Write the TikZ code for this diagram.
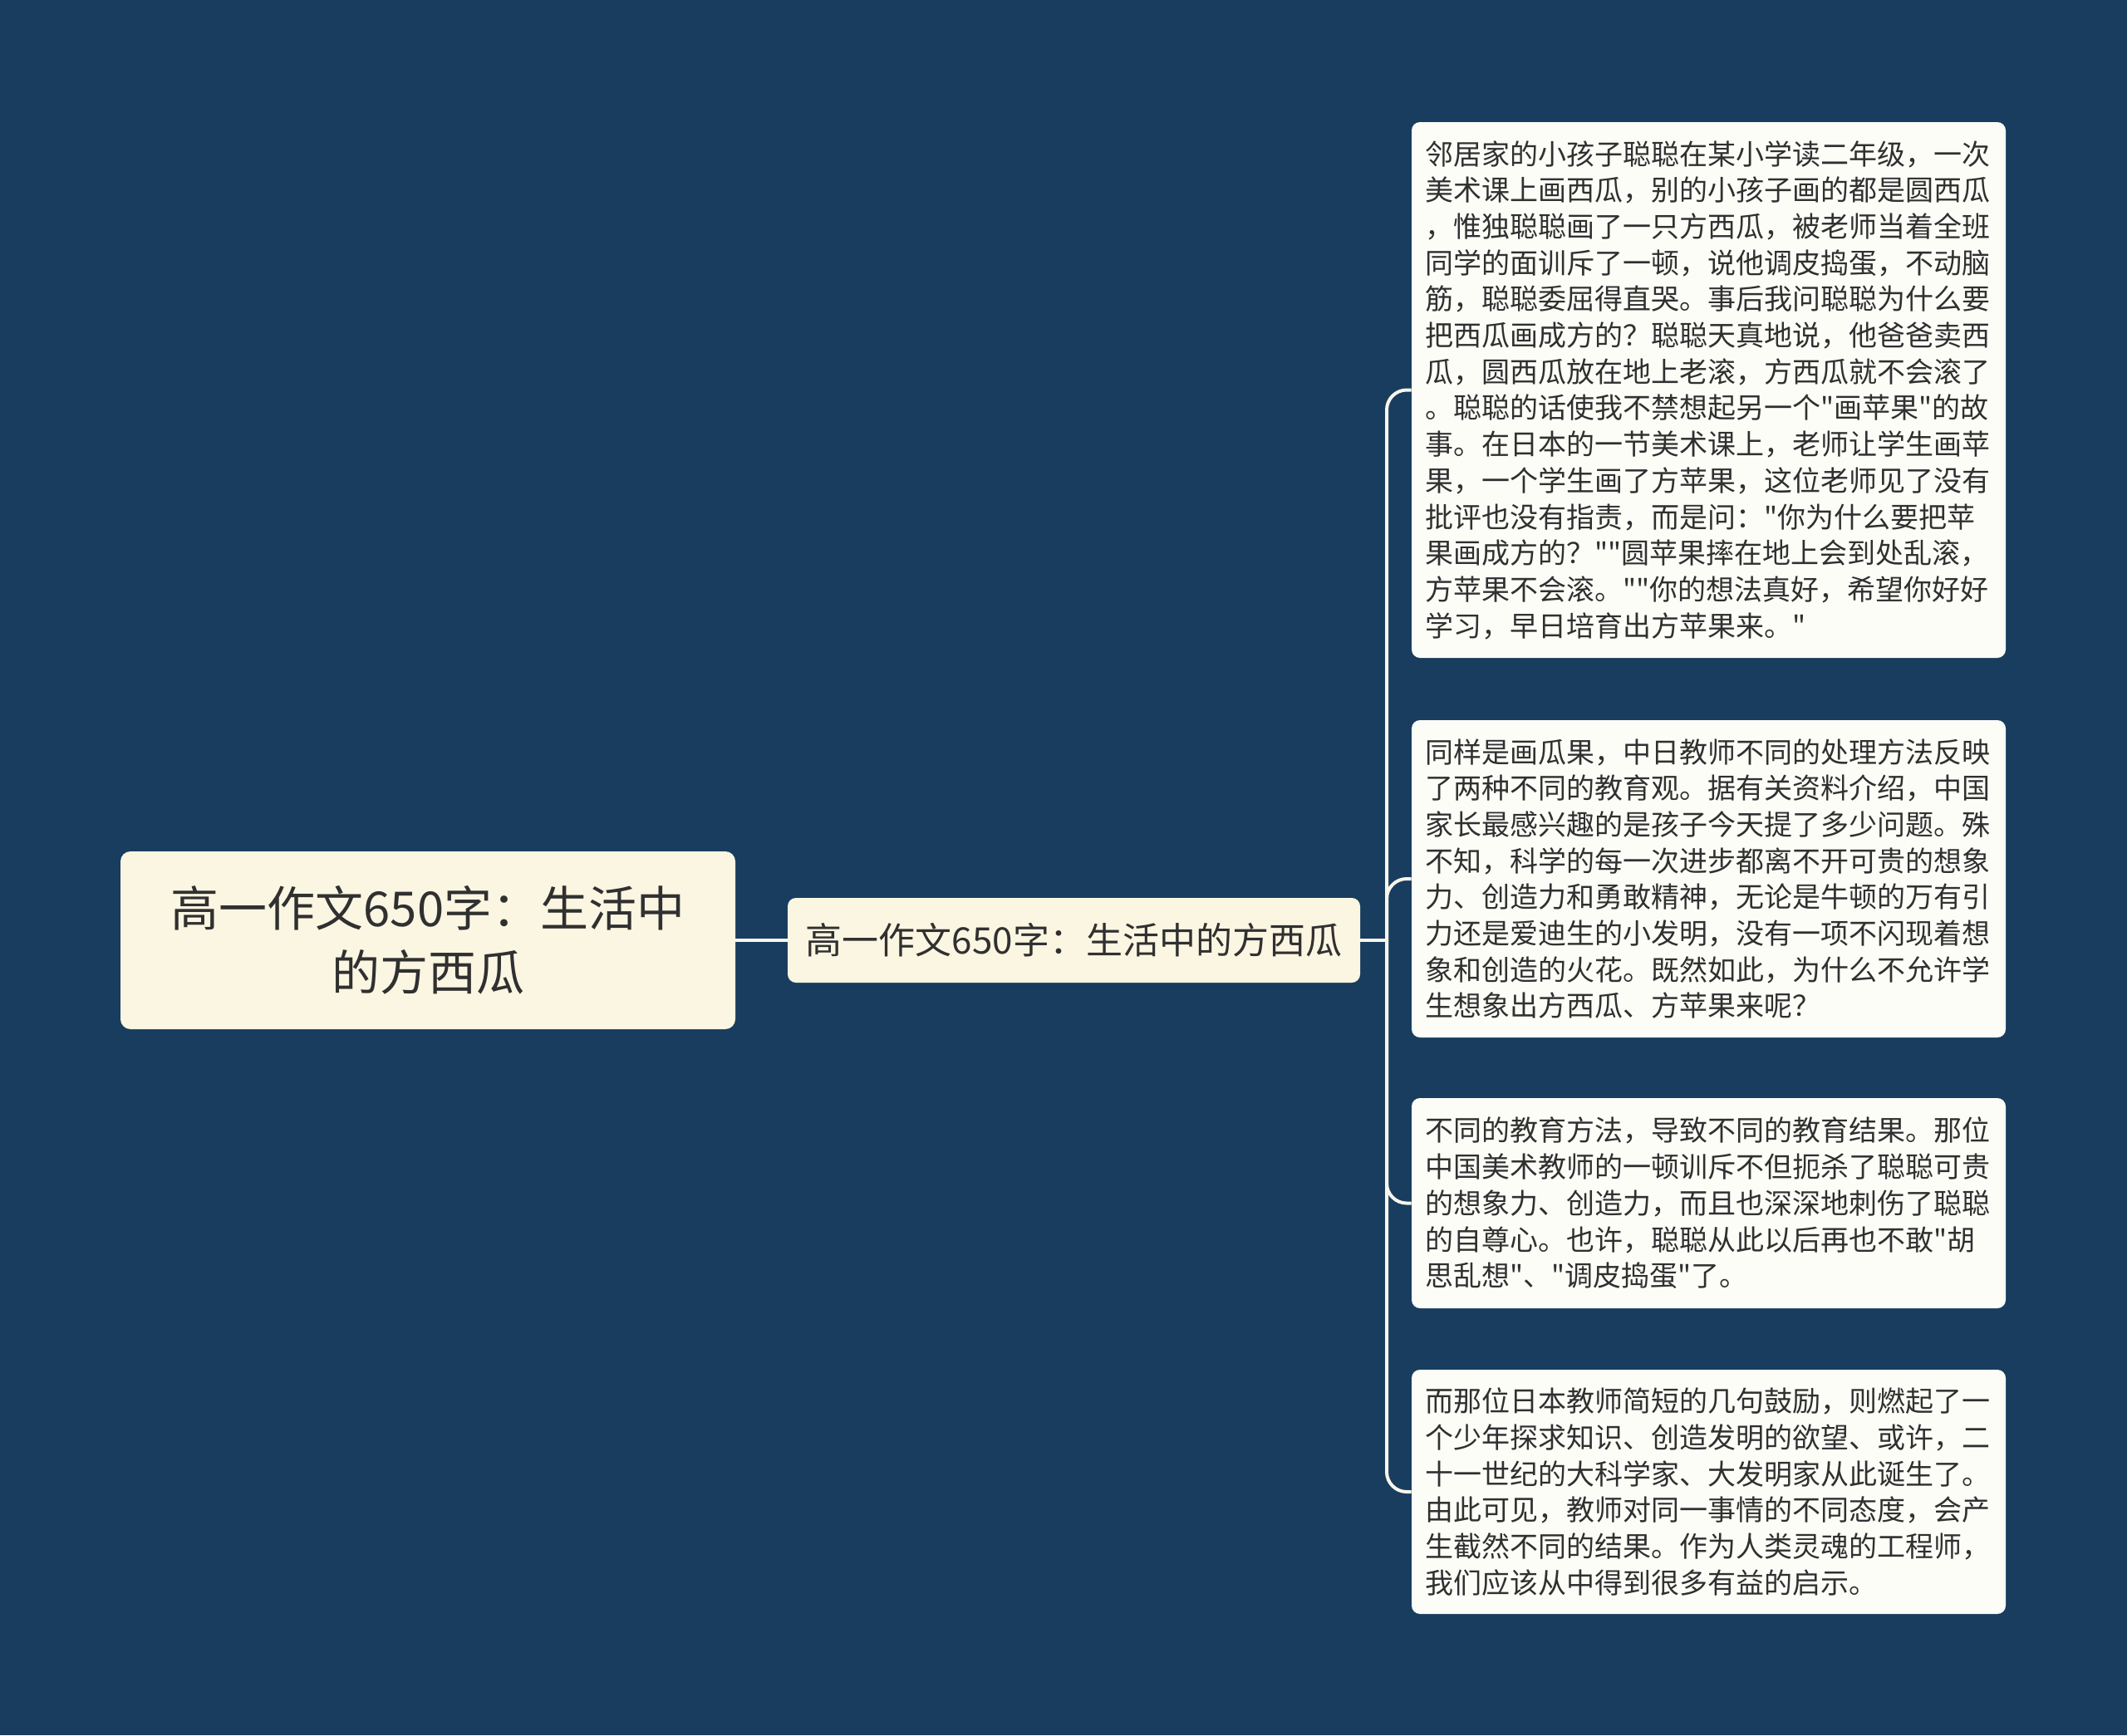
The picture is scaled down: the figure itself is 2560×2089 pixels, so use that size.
\documentclass[tikz,border=0pt]{standalone}
\usepackage{fontspec}
\setmainfont{Noto Sans CJK SC}[Ligatures=TeXOff]
\definecolor{bg}{RGB}{24,61,94}
\definecolor{cream}{RGB}{250,246,226}
\definecolor{paper}{RGB}{253,253,248}
\definecolor{ink}{RGB}{48,48,48}
\definecolor{wire}{RGB}{248,246,236}
\begin{document}
\begin{tikzpicture}[x=0.5pt,y=-0.5pt,
  rootbox/.style={fill=cream, rounded corners=6pt, inner sep=0pt, align=center, text=ink,
    minimum width=370pt, minimum height=107pt, font=\fontsize{29}{38.5}\selectfont},
  midbox/.style={fill=cream, rounded corners=5pt, inner sep=0pt, align=center, text=ink,
    minimum width=344.5pt, minimum height=51pt, font=\fontsize{22}{26}\selectfont},
  textbox/.style={fill=paper, rounded corners=5pt, inner xsep=8.25pt, inner ysep=0pt,
    text width=341pt, align=left, text=ink, minimum width=357.5pt,
    font=\fontsize{17}{21.85}\selectfont},
  wire/.style={draw=wire, line width=2pt}]
\fill[bg] (0,0) rectangle (2560,2089);
\useasboundingbox (0,0) rectangle (2560,2089);

\node[rootbox] (root) at (515,1132) {高一作文650字：生活中\\的方西瓜};
\node[midbox] (mid) at (1292.5,1132) {高一作文650字：生活中的方西瓜};

\node[textbox, minimum height=322.5pt] (b1) at (2056.5,469.5) {邻居家的小孩子聪聪在某小学读二年级，一次\\
美术课上画西瓜，别的小孩子画的都是圆西瓜\\
，惟独聪聪画了一只方西瓜，被老师当着全班\\
同学的面训斥了一顿，说他调皮捣蛋，不动脑\\
筋，聪聪委屈得直哭。事后我问聪聪为什么要\\
把西瓜画成方的？聪聪天真地说，他爸爸卖西\\
瓜，圆西瓜放在地上老滚，方西瓜就不会滚了\\
。聪聪的话使我不禁想起另一个"画苹果"的故\\
事。在日本的一节美术课上，老师让学生画苹\\
果，一个学生画了方苹果，这位老师见了没有\\
批评也没有指责，而是问："你为什么要把苹\\
果画成方的？""圆苹果摔在地上会到处乱滚，\\
方苹果不会滚。""你的想法真好，希望你好好\\
学习，早日培育出方苹果来。"};

\node[textbox, minimum height=191pt] (b2) at (2056.5,1058) {同样是画瓜果，中日教师不同的处理方法反映\\
了两种不同的教育观。据有关资料介绍，中国\\
家长最感兴趣的是孩子今天提了多少问题。殊\\
不知，科学的每一次进步都离不开可贵的想象\\
力、创造力和勇敢精神，无论是牛顿的万有引\\
力还是爱迪生的小发明，没有一项不闪现着想\\
象和创造的火花。既然如此，为什么不允许学\\
生想象出方西瓜、方苹果来呢？};

\node[textbox, minimum height=126.5pt] (b3) at (2056.5,1448.5) {不同的教育方法，导致不同的教育结果。那位\\
中国美术教师的一顿训斥不但扼杀了聪聪可贵\\
的想象力、创造力，而且也深深地刺伤了聪聪\\
的自尊心。也许，聪聪从此以后再也不敢"胡\\
思乱想"、"调皮捣蛋"了。};

\node[textbox, minimum height=147pt] (b4) at (2056.5,1796) {而那位日本教师简短的几句鼓励，则燃起了一\\
个少年探求知识、创造发明的欲望、或许，二\\
十一世纪的大科学家、大发明家从此诞生了。\\
由此可见，教师对同一事情的不同态度，会产\\
生截然不同的结果。作为人类灵魂的工程师，\\
我们应该从中得到很多有益的启示。};

\coordinate (J) at (1669,1132);
\draw[wire] (root.east) -- (mid.west);
\draw[wire] (mid.east) -- (J);
\foreach \b in {b1,b2,b3,b4}
  \draw[wire, rounded corners=12pt] (J) |- (\b.west);
\end{tikzpicture}
\end{document}
